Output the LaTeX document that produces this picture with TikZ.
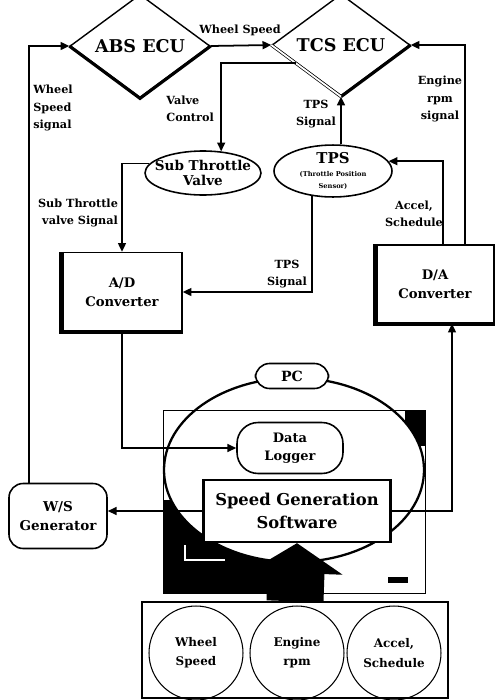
\documentclass[tikz,border=0pt]{standalone}
\usepackage{fontspec}
\setmainfont{DejaVu Serif}
\usetikzlibrary{shapes.geometric,arrows.meta,calc}
\newcommand\tpsfont{\fontsize{3.8}{4.5}\selectfont}

\begin{document}
\begin{tikzpicture}[x = 0.02cm, y = -0.02cm,
	ecu/.style = {diamond, draw, line width = 0.8pt, fill = white, inner sep = 0pt, font = \fontsize{10}{12}\selectfont\bfseries},
	oval/.style = {ellipse, draw, line width = 0.9pt, fill = white, inner sep = 0pt, align = center},
	conv/.style = {rectangle, draw, line width = 0.8pt, fill = white, align = center, font = \fontsize{7.5}{11}\selectfont\bfseries},
	rbox/.style = {rectangle, rounded corners = 8pt, draw, line width = 0.9pt, fill = white, align = center},
	sig/.style = {align = center, inner sep = 0pt, font = \fontsize{6.4}{10}\selectfont\bfseries},
	arr/.style = {-{Triangle[length = 5pt, width = 4.5pt]}, line width = 1pt}]
\useasboundingbox (0,0) rectangle (496,700);
\draw[line width = 0.5pt] (163,410) rectangle (425,593);
\begin{scope}
\clip (163,500) rectangle (294,593);
\fill[even odd rule] (163,410) rectangle (425,593) (294,470) ellipse [x radius = 130, y radius = 92];
\end{scope}
\begin{scope}
\clip (405,410) rectangle (425,445);
\fill[even odd rule] (163,410) rectangle (425,593) (294,470) ellipse [x radius = 130, y radius = 92];
\end{scope}
\draw[white, line width = 1.2pt] (185,545) |- (225,560);
\fill (388,577) rectangle (408,583);
\draw[line width = 1.3pt] (294,470) ellipse [x radius = 130, y radius = 92];

\node[ecu, minimum width = 2.8cm, minimum height = 1.36cm] (abs) at (140,46) {ABS ECU};
\node[ecu, minimum width = 2.76cm, minimum height = 1.48cm] (tcs) at (341,45) {TCS ECU};
\draw[line width = 1.8pt] (abs.west) -- (abs.south) -- (abs.east);
\draw[line width = 1.8pt] (tcs.south) -- (tcs.east);
\draw[double, double distance = 1pt] (tcs.west) -- (tcs.south);
\node[oval, inner xsep = -4pt, minimum width = 2.26cm, minimum height = 0.88cm, font = \fontsize{7.7}{9}\selectfont\bfseries] (stv) at (203,173) {Sub Throttle\\Valve};
\node[oval, minimum width = 2.36cm, minimum height = 0.9cm, font = \fontsize{8.5}{7}\selectfont\bfseries] (tps) at (333,171) {TPS\\\tpsfont(Throttle Position\\\tpsfont Sensor)};
\node[conv, minimum width = 2.4cm, minimum height = 1.58cm] (adc) at (122,292) {A/D\\Converter};
\node[conv, minimum width = 2.36cm, minimum height = 1.56cm] (dac) at (435,284) {D/A\\Converter};
\draw[line width = 2.5pt] (adc.north west) -- (adc.south west) -- (adc.south east);
\draw[line width = 2.5pt] (dac.north west) -- (dac.south west) -- (dac.south east);
\node[rbox, minimum width = 1.46cm, minimum height = 0.5cm, font = \fontsize{8}{10}\selectfont\bfseries] (pc) at (292,376) {PC};
\node[rbox, rounded corners = 12pt, minimum width = 2.12cm, minimum height = 1.02cm, font = \fontsize{7.4}{10}\selectfont\bfseries] (logger) at (290,448) {Data\\Logger};
\node[conv, line width = 1.3pt, minimum width = 3.74cm, minimum height = 1.24cm, font = \fontsize{9.3}{13}\selectfont\bfseries] (sgs) at (297,511) {Speed Generation\\Software};
\node[rbox, minimum width = 1.96cm, minimum height = 1.3cm, font = \fontsize{7.7}{11}\selectfont\bfseries] (wsg) at (58,516) {W/S\\Generator};
\node[draw, line width = 0.8pt, fill = white, minimum width = 6.12cm, minimum height = 1.92cm] (inbox) at (295,650) {};
\foreach \cx/\ta/\tb/\nm in {196/Wheel/Speed/wheel, 297/Engine/rpm/engine, 394/{Accel,}/Schedule/accel}
{
\node[circle, draw, line width = 0.6pt, minimum size = 1.88cm, inner sep = 0pt, align = center, font = \fontsize{6.8}{11}\selectfont\bfseries] (\nm) at (\cx,653) {\ta\\\tb};
}

\node[sig] (lws) at (240,30) {Wheel Speed};
\node[sig, align = left, anchor = west] (lwss) at (33,108) {Wheel\\Speed\\signal};
\node[sig] (lers) at (440,99) {Engine\\rpm\\signal};
\node[sig, align = left, anchor = west] (lvc) at (166,109) {Valve\\Control};
\node[sig] (ltps) at (316,114) {TPS\\Signal};
\node[sig, align = right] (lstv) at (78,213) {Sub Throttle\\valve Signal};
\node[sig] (ltpsb) at (287,274) {TPS\\Signal};
\node[sig] (lacc) at (414,214) {Accel,\\Schedule};

\draw[arr] (abs.east) -- (tcs.west);
\draw[arr] ([xshift = 0.42cm]wsg.north west) |- (abs.west);
\draw[arr] ([xshift = 0.6cm]dac.north) |- (tcs.east);
\draw[arr] ($(tcs.west)!0.35!(tcs.south)$) -| (stv.50);
\draw[arr] (tps.north -| tcs.south) -- (tcs.south);
\draw[arr] (stv.170) -| (adc.north);
\draw[arr] (tps.230) |- (adc.east);
\draw[arr] ([xshift = 0.16cm]dac.north) |- (tps.10);
\draw[arr] (adc.south) |- (logger.west);
\draw[arr] (sgs.east) -| ([xshift = 0.34cm]dac.south);
\draw[arr] (sgs.west) -- (sgs.west -| wsg.east);
\draw[line width = 1.14cm, -{Triangle[length = 0.6cm, width = 1.84cm]}] (inbox.north) -- (sgs.south);
\end{tikzpicture}
\end{document}
